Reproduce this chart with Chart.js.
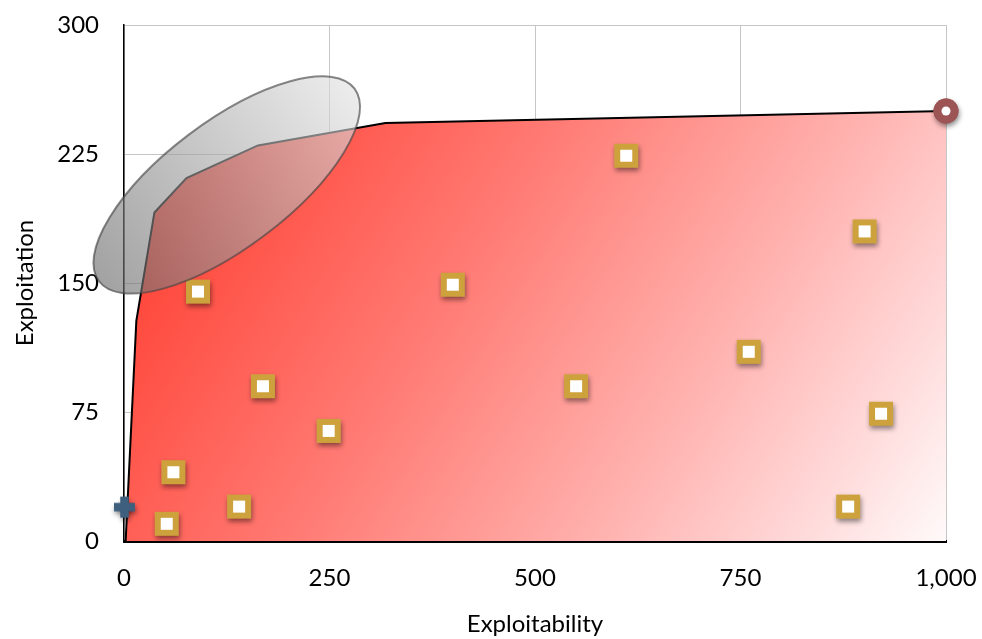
<!DOCTYPE html>
<html>
<head>
<meta charset="utf-8">
<script src="https://cdn.jsdelivr.net/npm/chart.js@4"></script>
<style>
  html, body { margin: 0; padding: 0; background: #fff; }
  #wrap { width: 982px; height: 639px; }
</style>
</head>
<body>
<div id="wrap"><canvas id="chart" width="982" height="639"></canvas></div>
<script>
// ── data ──
const frontierX = [2, 15, 37, 76, 163, 318, 1000];
const frontierY = [0, 128, 191, 211, 230, 243, 250];

const pointsX = [52, 60, 140, 90, 169, 249, 400, 550, 611, 760, 901, 921, 881];
const pointsY = [10, 40, 20, 145, 90, 64, 149, 90, 224, 110, 180, 74, 20];

const startX = [0];
const startY = [20];
const endX = [1000];
const endY = [250];

const xTicks = [0, 250, 500, 750, 1000];
const yTicks = [0, 75, 150, 225, 300];

// highlighted zone (centre in data units)
const zoneCentre = { x: 125, y: 207 };

const FONT = "'Gill Sans', 'Gill Sans MT', Lato, 'DejaVu Sans', sans-serif";
const FONT_SIZE = 24;

// ── marker images ──
function markerCanvas(drawFn) {
  const c = document.createElement('canvas');
  c.width = 40; c.height = 40;
  const g = c.getContext('2d');
  g.save();
  g.shadowColor = 'rgba(0,0,0,0.45)';
  g.shadowBlur = 5;
  g.shadowOffsetX = 1;
  g.shadowOffsetY = 3;
  drawFn(g, true);
  g.restore();
  drawFn(g, false);
  return c;
}

const squareImg = markerCanvas((g, shadowPass) => {
  g.fillStyle = '#cda23c';
  g.fillRect(8, 8, 24, 24);
  if (!shadowPass) {
    g.fillStyle = '#ffffff';
    g.fillRect(14, 14, 12, 12);
  }
});

const crossImg = markerCanvas((g) => {
  g.fillStyle = '#3e5f7e';
  g.fillRect(10, 16.5, 21, 8);
  g.fillRect(16.5, 10, 8, 21);
});

const circleImg = markerCanvas((g, shadowPass) => {
  g.fillStyle = '#9c5455';
  g.beginPath();
  g.arc(20, 20, 12.5, 0, Math.PI * 2);
  g.fill();
  if (!shadowPass) {
    g.fillStyle = '#ffffff';
    g.beginPath();
    g.arc(20, 20, 4.5, 0, Math.PI * 2);
    g.fill();
  }
});

function zip(xs, ys) { return xs.map((x, i) => ({ x, y: ys[i] })); }

function areaGradient(context) {
  const { ctx, chartArea } = context.chart;
  if (!chartArea) return '#ff6b60';
  const g = ctx.createLinearGradient(chartArea.left, chartArea.top, chartArea.right, chartArea.bottom);
  g.addColorStop(0.0, '#ff2e22');
  g.addColorStop(0.16, '#ff493d');
  g.addColorStop(0.43, '#ff7b74');
  g.addColorStop(0.7, '#ffb3b0');
  g.addColorStop(0.88, '#ffdcdc');
  g.addColorStop(1.0, '#fffafa');
  return g;
}

// translucent ellipse over the steep part of the frontier
const zonePlugin = {
  id: 'zone',
  afterDatasetsDraw(chart) {
    const { ctx, scales } = chart;
    const cx = scales.x.getPixelForValue(zoneCentre.x);
    const cy = scales.y.getPixelForValue(zoneCentre.y);
    const a = 160, b = 63, rot = -37 * Math.PI / 180;
    ctx.save();
    ctx.translate(cx, cy);
    ctx.rotate(rot);
    const g = ctx.createLinearGradient(-a, 0, a, 0);
    g.addColorStop(0, 'rgba(105,105,105,0.62)');
    g.addColorStop(1, 'rgba(225,225,225,0.62)');
    ctx.beginPath();
    ctx.ellipse(0, 0, a, b, 0, 0, Math.PI * 2);
    ctx.fillStyle = g;
    ctx.fill();
    ctx.lineWidth = 2;
    ctx.strokeStyle = 'rgba(70,70,70,0.65)';
    ctx.stroke();
    ctx.restore();
  }
};

new Chart(document.getElementById('chart'), {
  type: 'scatter',
  data: {
    datasets: [
      {
        type: 'line',
        data: zip(frontierX, frontierY),
        borderColor: '#000',
        borderWidth: 2,
        backgroundColor: areaGradient,
        fill: 'origin',
        pointRadius: 0,
        tension: 0,
        order: 3
      },
      {
        data: zip(pointsX, pointsY),
        pointStyle: squareImg,
        order: 2
      },
      {
        data: zip(startX, startY),
        pointStyle: crossImg,
        order: 1
      },
      {
        data: zip(endX, endY),
        pointStyle: circleImg,
        order: 1
      }
    ]
  },
  options: {
    responsive: false,
    animation: false,
    events: [],
    clip: false,
    layout: { padding: { left: 0, right: 36, top: 25, bottom: 0 } },
    plugins: {
      legend: { display: false },
      tooltip: { enabled: false }
    },
    scales: {
      x: {
        type: 'linear',
        min: 0, max: 1000,
        z: 1,
        afterBuildTicks: s => { s.ticks = xTicks.map(v => ({ value: v })); },
        afterFit: s => { s.height = 98; s.paddingLeft = 0; s.paddingRight = 0; },
        grid: { color: '#c6c6c6', lineWidth: 1, drawTicks: false },
        border: { color: '#000', width: 3 },
        ticks: {
          padding: 23,
          color: '#000',
          font: { family: FONT, size: FONT_SIZE },
          callback: v => v.toLocaleString('en-US')
        },
        title: {
          display: true,
          text: 'Exploitability',
          color: '#000',
          font: { family: FONT, size: FONT_SIZE },
          padding: { top: 0, bottom: 0 }
        }
      },
      y: {
        type: 'linear',
        min: 0, max: 300,
        z: 1,
        afterBuildTicks: s => { s.ticks = yTicks.map(v => ({ value: v })); },
        afterFit: s => { s.width = 124; s.paddingTop = 0; s.paddingBottom = 0; },
        grid: { color: '#c6c6c6', lineWidth: 1, drawTicks: false },
        border: { color: '#000', width: 1.5 },
        ticks: {
          padding: 25,
          color: '#000',
          font: { family: FONT, size: FONT_SIZE }
        },
        title: {
          display: true,
          text: 'Exploitation',
          color: '#000',
          font: { family: FONT, size: FONT_SIZE },
          padding: { top: 11, bottom: 0 }
        }
      }
    }
  },
  plugins: [zonePlugin]
});
</script>
</body>
</html>
